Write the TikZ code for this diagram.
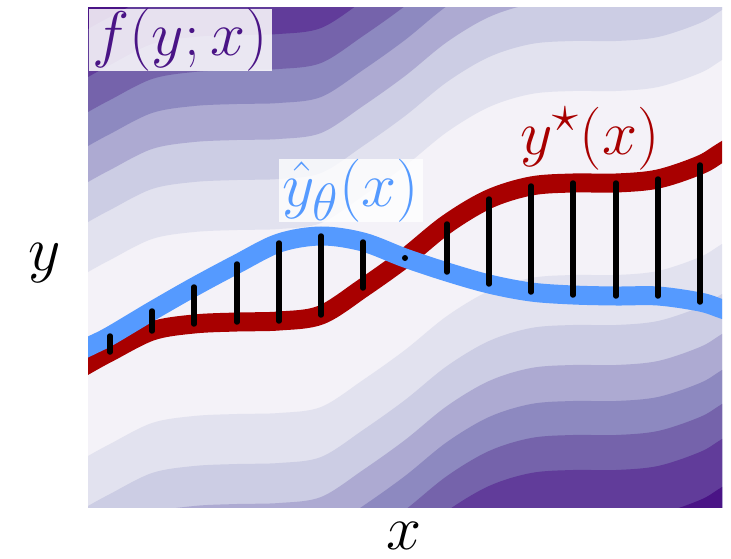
\documentclass[tikz,border=0pt]{standalone}
\definecolor{p0}{HTML}{F4F2F8}
\definecolor{p1}{HTML}{E2E2EF}
\definecolor{p2}{HTML}{CCCDE4}
\definecolor{p3}{HTML}{ADAAD2}
\definecolor{p4}{HTML}{8D89C0}
\definecolor{p5}{HTML}{7563AB}
\definecolor{p6}{HTML}{613C9A}
\definecolor{p7}{HTML}{4A1486}
\definecolor{rcol}{HTML}{A80000}
\definecolor{bcol}{HTML}{559AFF}
\begin{document}
\begin{tikzpicture}[x=1pt,y=-1pt,
  rc/.style={insert path={plot[smooth,tension=0.55] coordinates {(50,386) (88,364) (110,352) (152,331) (194,324) (237,322) (279,321) (321,315) (363,288) (405,258) (447,224) (489,199) (531,186) (573,183) (616,183) (658,179) (700,165) (722,152) (760,128)}}},
  band/.style={line width=19pt, line cap=butt},
  tickline/.style={line width=5.5pt, line cap=round, black},
  lab/.style={font=\Huge, scale=2.532, transform shape, inner sep=0pt}]
\useasboundingbox (0,0) rectangle (731,559);
% named points of the curves
\coordinate (rA) at (50,386); \coordinate (rB) at (88,364);
\coordinate (r1) at (110,352); \coordinate (r2) at (152,331);
\coordinate (r3) at (194,324); \coordinate (r4) at (237,322);
\coordinate (r5) at (279,321); \coordinate (r6) at (321,315);
\coordinate (r7) at (363,288); \coordinate (r8) at (405,258);
\coordinate (r9) at (447,224); \coordinate (r10) at (489,199);
\coordinate (r11) at (531,186); \coordinate (r12) at (573,183);
\coordinate (r13) at (616,183); \coordinate (r14) at (658,179);
\coordinate (r15) at (700,165); \coordinate (rC) at (722,152);
\coordinate (rD) at (760,128);
\coordinate (bA) at (50,366); \coordinate (bB) at (88,347);
\coordinate (b1) at (110,336); \coordinate (b2) at (152,311);
\coordinate (b3) at (194,287); \coordinate (b4) at (237,264);
\coordinate (b5) at (279,243); \coordinate (b6) at (321,236);
\coordinate (b7) at (363,242); \coordinate (b8) at (405,258);
\coordinate (b9) at (447,272); \coordinate (b10) at (489,284);
\coordinate (b11) at (531,292); \coordinate (b12) at (573,295);
\coordinate (b13) at (616,296); \coordinate (b14) at (658,296);
\coordinate (b15) at (700,302); \coordinate (bC) at (722,309);
\coordinate (bD) at (760,323);
\begin{scope}
  \clip (88,8) rectangle (722,507);
  \fill[p0] (88,8) rectangle (722,507);
  \foreach \o/\c in {92/p1,142/p2,182/p3,218/p4,252/p5,287/p6,335/p7} {
    \fill[fill=\c, shift={(0,-\o)}] [rc] -- (760,-700) -- (50,-700) -- cycle;
    \fill[fill=\c, shift={(0,\o)}] [rc] -- (760,1300) -- (50,1300) -- cycle;
  }
  \draw[band, rcol] plot[smooth,tension=0.55] coordinates {(rA) (rB) (r1) (r2) (r3) (r4) (r5) (r6) (r7) (r8) (r9) (r10) (r11) (r12) (r13) (r14) (r15) (rC) (rD)};
  \draw[band, bcol] plot[smooth,tension=0.55] coordinates {(bA) (bB) (b1) (b2) (b3) (b4) (b5) (b6) (b7) (b8) (b9) (b10) (b11) (b12) (b13) (b14) (b15) (bC) (bD)};
\end{scope}
\foreach \i in {1,...,7,9,10,11,12,13,14,15} {
  \draw[tickline] (b\i) -- (r\i);
}
\fill[black] (r8) circle (3pt);
% labels
\node[lab, text=p7, fill=white, fill opacity=0.85, text opacity=1, inner xsep=1.6pt, anchor=north west] (flab) at (88,8) {$f(y;x)$};
\node[lab, text=rcol, anchor=base west] (ystar) at (520,154) {$y^\star(x)$};
\node[lab, text=bcol, fill=white, fill opacity=0.8, text opacity=1, inner xsep=1.6pt, anchor=base west] (yhat) at (278,206) {$\hat{y}_\theta(x)$};
\node[lab, anchor=base] (xlab) at (404,549) {$x$};
\node[lab, anchor=base] (ylab) at (45,270) {$y$};
\end{tikzpicture}
\end{document}
